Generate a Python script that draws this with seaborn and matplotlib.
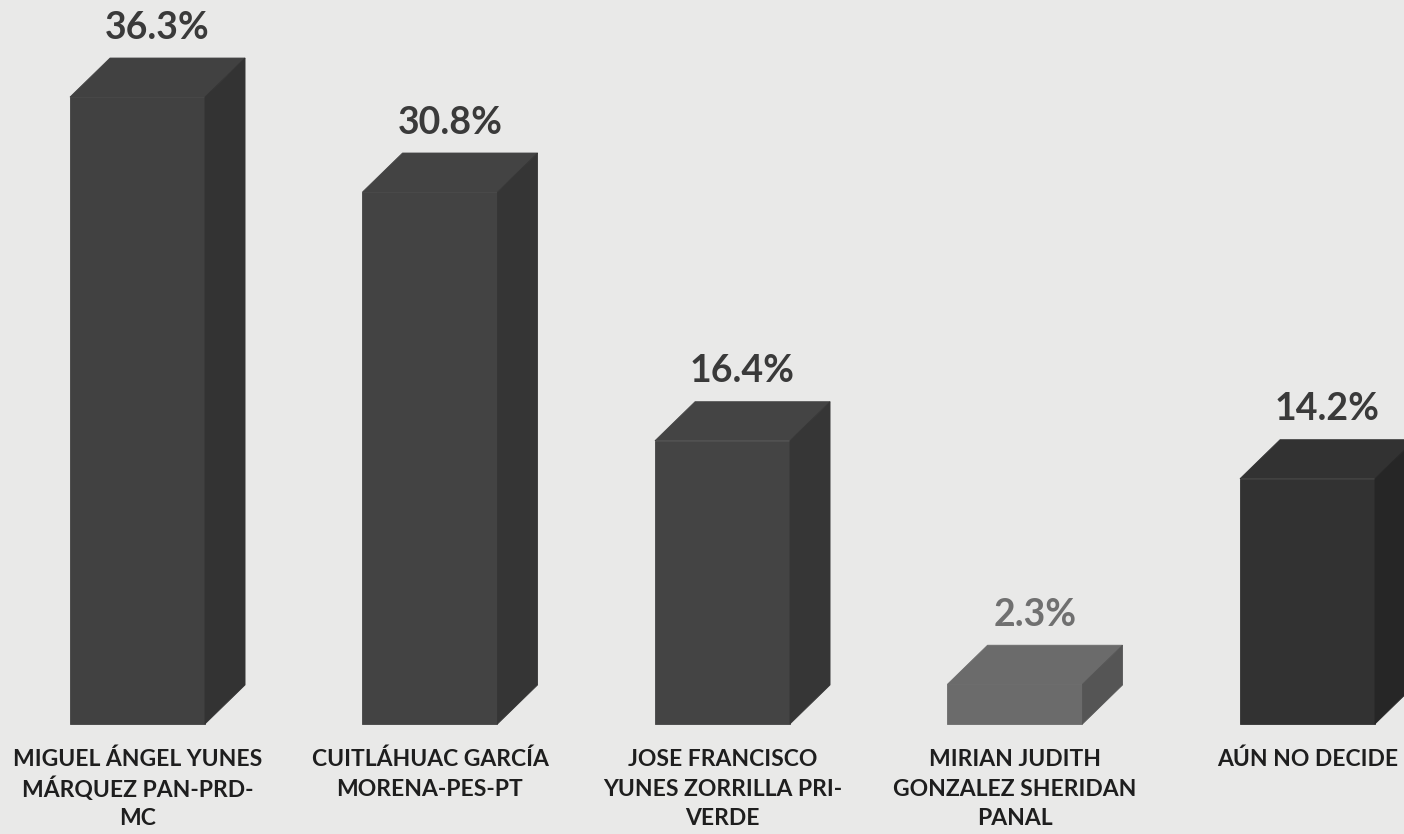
import matplotlib
matplotlib.use("Agg")
import matplotlib.pyplot as plt
import seaborn as sns
import pandas as pd
from matplotlib.patches import Polygon

# ---- data ----
categories = [
    "MIGUEL ÁNGEL YUNES\nMÁRQUEZ PAN-PRD-\nMC",
    "CUITLÁHUAC GARCÍA\nMORENA-PES-PT",
    "JOSE FRANCISCO\nYUNES ZORRILLA PRI-\nVERDE",
    "MIRIAN JUDITH\nGONZALEZ SHERIDAN\nPANAL",
    "AÚN NO DECIDE",
]
values = [36.3, 30.8, 16.4, 2.3, 14.2]
value_labels = ["36.3%", "30.8%", "16.4%", "2.3%", "14.2%"]
front_colors = ["#414141", "#434343", "#444444", "#6b6b6b", "#323232"]
side_colors = ["#333333", "#353535", "#363636", "#555555", "#262626"]
label_colors = ["#3a3a3a", "#3a3a3a", "#3a3a3a", "#707070", "#3a3a3a"]

sns.set_theme(style="white")
plt.rcParams["font.family"] = ["Lato", "DejaVu Sans"]

bg = "#e9e9e8"
fig = plt.figure(figsize=(14.04, 8.34), dpi=100, facecolor=bg)
ax = fig.add_axes([0, 0, 1, 1])
ax.set_facecolor(bg)

df = pd.DataFrame({"cat": categories, "val": values})
bar_w = 0.4615
sns.barplot(data=df, x="cat", y="val", hue="cat", palette=front_colors,
            width=bar_w, legend=False, ax=ax, saturation=1, linewidth=0.6)
for p, c in zip(ax.patches, front_colors):
    p.set_edgecolor(c)

ax.set_xlim(-0.470, 4.330)
ax.set_ylim(-6.37, 41.92)

dx = 0.137
dy = 2.26
for i, v in enumerate(values):
    x0 = i - bar_w / 2
    x1 = i + bar_w / 2
    top = Polygon([(x0, v), (x0 + dx, v + dy), (x1 + dx, v + dy), (x1, v)],
                  closed=True, facecolor=front_colors[i], edgecolor=front_colors[i],
                  linewidth=0.6)
    side = Polygon([(x1, v), (x1 + dx, v + dy), (x1 + dx, dy), (x1, 0)],
                   closed=True, facecolor=side_colors[i], edgecolor=side_colors[i],
                   linewidth=0.6)
    ax.add_patch(top)
    ax.add_patch(side)
    ax.text(i + dx / 2, v + dy + 1.75, value_labels[i], ha="center", va="center",
            fontsize=27, fontweight="bold", color=label_colors[i])
    for k, line in enumerate(categories[i].split("\n")):
        ax.annotate(line, xy=(i, 0), xytext=(0, -24.3 - 21.2 * k),
                    textcoords="offset points", ha="center", va="center_baseline",
                    fontsize=16.5, fontweight="bold", color="#1e1e1e")

ax.set_axis_off()
fig.savefig("out.png", dpi=100, facecolor=bg)
